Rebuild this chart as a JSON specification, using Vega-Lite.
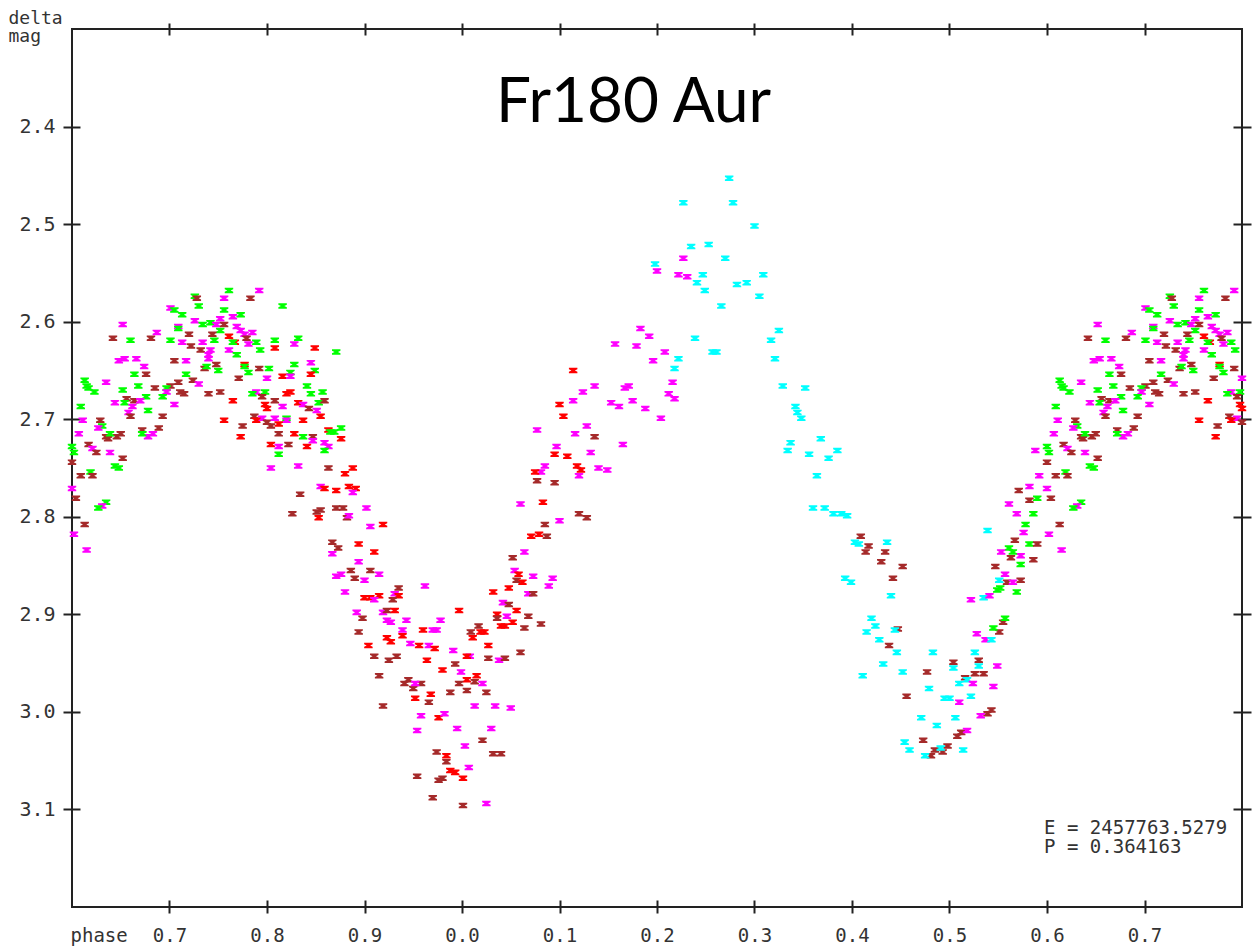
{
"$schema": "https://vega.github.io/schema/vega-lite/v6.json",
"width": 1170, "height": 878,
"autosize": {"type": "none"},
"padding": {"left": 72, "top": 29, "right": 11, "bottom": 41},
"background": "white",
"config": {"view": {"stroke": "#222", "strokeWidth": 2}, "axis": {"grid": false}},
"datasets": {"obs": [
{"phase":0.792,"mag":2.568,"set":"m"},{"phase":0.761,"mag":2.568,"set":"g"},{"phase":0.726,"mag":2.574,"set":"g"},{"phase":0.728,"mag":2.576,"set":"b"},{"phase":0.756,"mag":2.576,"set":"m"},{"phase":0.783,"mag":2.576,"set":"b"},{"phase":0.730,"mag":2.584,"set":"g"},{"phase":0.701,"mag":2.586,"set":"m"},{"phase":0.705,"mag":2.588,"set":"g"},{"phase":0.713,"mag":2.593,"set":"g"},{"phase":0.756,"mag":2.588,"set":"g"},{"phase":0.773,"mag":2.593,"set":"g"},{"phase":0.765,"mag":2.595,"set":"m"},{"phase":0.752,"mag":2.597,"set":"m"},{"phase":0.726,"mag":2.599,"set":"m"},{"phase":0.742,"mag":2.601,"set":"g"},{"phase":0.734,"mag":2.603,"set":"g"},{"phase":0.748,"mag":2.603,"set":"m"},{"phase":0.756,"mag":2.603,"set":"b"},{"phase":0.652,"mag":2.603,"set":"m"},{"phase":0.709,"mag":2.605,"set":"m"},{"phase":0.709,"mag":2.607,"set":"g"},{"phase":0.769,"mag":2.605,"set":"m"},{"phase":0.752,"mag":2.609,"set":"g"},{"phase":0.773,"mag":2.609,"set":"m"},{"phase":0.785,"mag":2.611,"set":"m"},{"phase":0.777,"mag":2.613,"set":"m"},{"phase":0.687,"mag":2.611,"set":"m"},{"phase":0.720,"mag":2.613,"set":"b"},{"phase":0.744,"mag":2.613,"set":"b"},{"phase":0.761,"mag":2.615,"set":"r"},{"phase":0.642,"mag":2.617,"set":"b"},{"phase":0.660,"mag":2.619,"set":"g"},{"phase":0.681,"mag":2.617,"set":"b"},{"phase":0.701,"mag":2.619,"set":"g"},{"phase":0.746,"mag":2.619,"set":"g"},{"phase":0.779,"mag":2.617,"set":"b"},{"phase":0.767,"mag":2.621,"set":"r"},{"phase":0.765,"mag":2.621,"set":"g"},{"phase":0.713,"mag":2.621,"set":"m"},{"phase":0.734,"mag":2.621,"set":"m"},{"phase":0.781,"mag":2.623,"set":"m"},{"phase":0.789,"mag":2.621,"set":"g"},{"phase":0.722,"mag":2.625,"set":"b"},{"phase":0.793,"mag":2.629,"set":"g"},{"phase":0.732,"mag":2.629,"set":"b"},{"phase":0.742,"mag":2.629,"set":"m"},{"phase":0.740,"mag":2.634,"set":"m"},{"phase":0.740,"mag":2.638,"set":"m"},{"phase":0.761,"mag":2.629,"set":"m"},{"phase":0.769,"mag":2.634,"set":"g"},{"phase":0.648,"mag":2.640,"set":"m"},{"phase":0.654,"mag":2.638,"set":"m"},{"phase":0.666,"mag":2.638,"set":"m"},{"phase":0.705,"mag":2.640,"set":"b"},{"phase":0.717,"mag":2.640,"set":"m"},{"phase":0.674,"mag":2.646,"set":"m"},{"phase":0.777,"mag":2.644,"set":"r"},{"phase":0.777,"mag":2.646,"set":"g"},{"phase":0.748,"mag":2.644,"set":"b"},{"phase":0.792,"mag":2.648,"set":"b"},{"phase":0.736,"mag":2.648,"set":"b"},{"phase":0.738,"mag":2.646,"set":"g"},{"phase":0.750,"mag":2.650,"set":"g"},{"phase":0.664,"mag":2.654,"set":"g"},{"phase":0.676,"mag":2.654,"set":"b"},{"phase":0.717,"mag":2.654,"set":"g"},{"phase":0.781,"mag":2.652,"set":"g"},{"phase":0.771,"mag":2.658,"set":"b"},{"phase":0.800,"mag":2.658,"set":"m"},{"phase":0.709,"mag":2.662,"set":"b"},{"phase":0.613,"mag":2.660,"set":"g"},{"phase":0.635,"mag":2.662,"set":"m"},{"phase":0.724,"mag":2.660,"set":"b"},{"phase":0.615,"mag":2.666,"set":"g"},{"phase":0.617,"mag":2.668,"set":"g"},{"phase":0.730,"mag":2.664,"set":"m"},{"phase":0.668,"mag":2.666,"set":"g"},{"phase":0.701,"mag":2.666,"set":"b"},{"phase":0.685,"mag":2.668,"set":"b"},{"phase":0.652,"mag":2.670,"set":"g"},{"phase":0.623,"mag":2.672,"set":"g"},{"phase":0.697,"mag":2.668,"set":"g"},{"phase":0.711,"mag":2.672,"set":"b"},{"phase":0.715,"mag":2.674,"set":"b"},{"phase":0.697,"mag":2.672,"set":"m"},{"phase":0.740,"mag":2.674,"set":"b"},{"phase":0.752,"mag":2.672,"set":"b"},{"phase":0.789,"mag":2.672,"set":"m"},{"phase":0.785,"mag":2.674,"set":"g"},{"phase":0.798,"mag":2.672,"set":"g"},{"phase":0.795,"mag":2.677,"set":"b"},{"phase":0.676,"mag":2.677,"set":"g"},{"phase":0.693,"mag":2.677,"set":"g"},{"phase":0.656,"mag":2.679,"set":"b"},{"phase":0.664,"mag":2.681,"set":"b"},{"phase":0.670,"mag":2.681,"set":"m"},{"phase":0.765,"mag":2.681,"set":"r"},{"phase":0.644,"mag":2.683,"set":"m"},{"phase":0.654,"mag":2.683,"set":"g"},{"phase":0.798,"mag":2.685,"set":"r"},{"phase":0.705,"mag":2.685,"set":"m"},{"phase":0.609,"mag":2.687,"set":"g"},{"phase":0.662,"mag":2.687,"set":"m"},{"phase":0.658,"mag":2.693,"set":"m"},{"phase":0.800,"mag":2.689,"set":"r"},{"phase":0.678,"mag":2.691,"set":"g"},{"phase":0.660,"mag":2.697,"set":"b"},{"phase":0.693,"mag":2.697,"set":"b"},{"phase":0.787,"mag":2.697,"set":"b"},{"phase":0.795,"mag":2.699,"set":"m"},{"phase":0.789,"mag":2.701,"set":"r"},{"phase":0.611,"mag":2.701,"set":"m"},{"phase":0.629,"mag":2.701,"set":"b"},{"phase":0.756,"mag":2.701,"set":"r"},{"phase":0.800,"mag":2.703,"set":"b"},{"phase":0.775,"mag":2.707,"set":"b"},{"phase":0.631,"mag":2.707,"set":"g"},{"phase":0.627,"mag":2.709,"set":"m"},{"phase":0.689,"mag":2.709,"set":"b"},{"phase":0.672,"mag":2.711,"set":"b"},{"phase":0.635,"mag":2.718,"set":"b"},{"phase":0.637,"mag":2.720,"set":"b"},{"phase":0.646,"mag":2.718,"set":"b"},{"phase":0.650,"mag":2.715,"set":"b"},{"phase":0.639,"mag":2.715,"set":"g"},{"phase":0.607,"mag":2.715,"set":"m"},{"phase":0.678,"mag":2.718,"set":"m"},{"phase":0.683,"mag":2.715,"set":"m"},{"phase":0.672,"mag":2.715,"set":"g"},{"phase":0.773,"mag":2.718,"set":"r"},{"phase":0.617,"mag":2.726,"set":"b"},{"phase":0.621,"mag":2.730,"set":"m"},{"phase":0.625,"mag":2.734,"set":"b"},{"phase":0.639,"mag":2.734,"set":"m"},{"phase":0.602,"mag":2.734,"set":"g"},{"phase":0.652,"mag":2.740,"set":"b"},{"phase":0.600,"mag":2.744,"set":"b"},{"phase":0.644,"mag":2.748,"set":"g"},{"phase":0.648,"mag":2.750,"set":"g"},{"phase":0.619,"mag":2.754,"set":"g"},{"phase":0.609,"mag":2.758,"set":"b"},{"phase":0.621,"mag":2.758,"set":"b"},{"phase":0.604,"mag":2.781,"set":"b"},{"phase":0.635,"mag":2.785,"set":"g"},{"phase":0.631,"mag":2.789,"set":"m"},{"phase":0.627,"mag":2.791,"set":"g"},{"phase":0.613,"mag":2.808,"set":"b"},{"phase":0.602,"mag":2.818,"set":"m"},{"phase":0.615,"mag":2.834,"set":"m"},{"phase":0.600,"mag":2.771,"set":"m"},{"phase":0.600,"mag":2.728,"set":"g"},
{"phase":1.792,"mag":2.568,"set":"m"},{"phase":1.761,"mag":2.568,"set":"g"},{"phase":1.726,"mag":2.574,"set":"g"},{"phase":1.728,"mag":2.576,"set":"b"},{"phase":1.756,"mag":2.576,"set":"m"},{"phase":1.783,"mag":2.576,"set":"b"},{"phase":1.730,"mag":2.584,"set":"g"},{"phase":1.701,"mag":2.586,"set":"m"},{"phase":1.705,"mag":2.588,"set":"g"},{"phase":1.713,"mag":2.593,"set":"g"},{"phase":1.756,"mag":2.588,"set":"g"},{"phase":1.773,"mag":2.593,"set":"g"},{"phase":1.765,"mag":2.595,"set":"m"},{"phase":1.752,"mag":2.597,"set":"m"},{"phase":1.726,"mag":2.599,"set":"m"},{"phase":1.742,"mag":2.601,"set":"g"},{"phase":1.734,"mag":2.603,"set":"g"},{"phase":1.748,"mag":2.603,"set":"m"},{"phase":1.756,"mag":2.603,"set":"b"},{"phase":1.652,"mag":2.603,"set":"m"},{"phase":1.709,"mag":2.605,"set":"m"},{"phase":1.709,"mag":2.607,"set":"g"},{"phase":1.769,"mag":2.605,"set":"m"},{"phase":1.752,"mag":2.609,"set":"g"},{"phase":1.773,"mag":2.609,"set":"m"},{"phase":1.785,"mag":2.611,"set":"m"},{"phase":1.777,"mag":2.613,"set":"m"},{"phase":1.687,"mag":2.611,"set":"m"},{"phase":1.720,"mag":2.613,"set":"b"},{"phase":1.744,"mag":2.613,"set":"b"},{"phase":1.761,"mag":2.615,"set":"r"},{"phase":1.642,"mag":2.617,"set":"b"},{"phase":1.660,"mag":2.619,"set":"g"},{"phase":1.681,"mag":2.617,"set":"b"},{"phase":1.701,"mag":2.619,"set":"g"},{"phase":1.746,"mag":2.619,"set":"g"},{"phase":1.779,"mag":2.617,"set":"b"},{"phase":1.767,"mag":2.621,"set":"r"},{"phase":1.765,"mag":2.621,"set":"g"},{"phase":1.713,"mag":2.621,"set":"m"},{"phase":1.734,"mag":2.621,"set":"m"},{"phase":1.781,"mag":2.623,"set":"m"},{"phase":1.789,"mag":2.621,"set":"g"},{"phase":1.722,"mag":2.625,"set":"b"},{"phase":1.793,"mag":2.629,"set":"g"},{"phase":1.732,"mag":2.629,"set":"b"},{"phase":1.742,"mag":2.629,"set":"m"},{"phase":1.740,"mag":2.634,"set":"m"},{"phase":1.740,"mag":2.638,"set":"m"},{"phase":1.761,"mag":2.629,"set":"m"},{"phase":1.769,"mag":2.634,"set":"g"},{"phase":1.648,"mag":2.640,"set":"m"},{"phase":1.654,"mag":2.638,"set":"m"},{"phase":1.666,"mag":2.638,"set":"m"},{"phase":1.705,"mag":2.640,"set":"b"},{"phase":1.717,"mag":2.640,"set":"m"},{"phase":1.674,"mag":2.646,"set":"m"},{"phase":1.777,"mag":2.644,"set":"r"},{"phase":1.777,"mag":2.646,"set":"g"},{"phase":1.748,"mag":2.644,"set":"b"},{"phase":1.792,"mag":2.648,"set":"b"},{"phase":1.736,"mag":2.648,"set":"b"},{"phase":1.738,"mag":2.646,"set":"g"},{"phase":1.750,"mag":2.650,"set":"g"},{"phase":1.664,"mag":2.654,"set":"g"},{"phase":1.676,"mag":2.654,"set":"b"},{"phase":1.717,"mag":2.654,"set":"g"},{"phase":1.781,"mag":2.652,"set":"g"},{"phase":1.771,"mag":2.658,"set":"b"},{"phase":1.800,"mag":2.658,"set":"m"},{"phase":1.709,"mag":2.662,"set":"b"},{"phase":1.613,"mag":2.660,"set":"g"},{"phase":1.635,"mag":2.662,"set":"m"},{"phase":1.724,"mag":2.660,"set":"b"},{"phase":1.615,"mag":2.666,"set":"g"},{"phase":1.617,"mag":2.668,"set":"g"},{"phase":1.730,"mag":2.664,"set":"m"},{"phase":1.668,"mag":2.666,"set":"g"},{"phase":1.701,"mag":2.666,"set":"b"},{"phase":1.685,"mag":2.668,"set":"b"},{"phase":1.652,"mag":2.670,"set":"g"},{"phase":1.623,"mag":2.672,"set":"g"},{"phase":1.697,"mag":2.668,"set":"g"},{"phase":1.711,"mag":2.672,"set":"b"},{"phase":1.715,"mag":2.674,"set":"b"},{"phase":1.697,"mag":2.672,"set":"m"},{"phase":1.740,"mag":2.674,"set":"b"},{"phase":1.752,"mag":2.672,"set":"b"},{"phase":1.789,"mag":2.672,"set":"m"},{"phase":1.785,"mag":2.674,"set":"g"},{"phase":1.798,"mag":2.672,"set":"g"},{"phase":1.795,"mag":2.677,"set":"b"},{"phase":1.676,"mag":2.677,"set":"g"},{"phase":1.693,"mag":2.677,"set":"g"},{"phase":1.656,"mag":2.679,"set":"b"},{"phase":1.664,"mag":2.681,"set":"b"},{"phase":1.670,"mag":2.681,"set":"m"},{"phase":1.765,"mag":2.681,"set":"r"},{"phase":1.644,"mag":2.683,"set":"m"},{"phase":1.654,"mag":2.683,"set":"g"},{"phase":1.798,"mag":2.685,"set":"r"},{"phase":1.705,"mag":2.685,"set":"m"},{"phase":1.609,"mag":2.687,"set":"g"},{"phase":1.662,"mag":2.687,"set":"m"},{"phase":1.658,"mag":2.693,"set":"m"},{"phase":1.800,"mag":2.689,"set":"r"},{"phase":1.678,"mag":2.691,"set":"g"},{"phase":1.660,"mag":2.697,"set":"b"},{"phase":1.693,"mag":2.697,"set":"b"},{"phase":1.787,"mag":2.697,"set":"b"},{"phase":1.795,"mag":2.699,"set":"m"},{"phase":1.789,"mag":2.701,"set":"r"},{"phase":1.611,"mag":2.701,"set":"m"},{"phase":1.629,"mag":2.701,"set":"b"},{"phase":1.756,"mag":2.701,"set":"r"},{"phase":1.800,"mag":2.703,"set":"b"},{"phase":1.775,"mag":2.707,"set":"b"},{"phase":1.631,"mag":2.707,"set":"g"},{"phase":1.627,"mag":2.709,"set":"m"},{"phase":1.689,"mag":2.709,"set":"b"},{"phase":1.672,"mag":2.711,"set":"b"},{"phase":1.635,"mag":2.718,"set":"b"},{"phase":1.637,"mag":2.720,"set":"b"},{"phase":1.646,"mag":2.718,"set":"b"},{"phase":1.650,"mag":2.715,"set":"b"},{"phase":1.639,"mag":2.715,"set":"g"},{"phase":1.607,"mag":2.715,"set":"m"},{"phase":1.678,"mag":2.718,"set":"m"},{"phase":1.683,"mag":2.715,"set":"m"},{"phase":1.672,"mag":2.715,"set":"g"},{"phase":1.773,"mag":2.718,"set":"r"},{"phase":1.617,"mag":2.726,"set":"b"},{"phase":1.621,"mag":2.730,"set":"m"},{"phase":1.625,"mag":2.734,"set":"b"},{"phase":1.639,"mag":2.734,"set":"m"},{"phase":1.602,"mag":2.734,"set":"g"},{"phase":1.652,"mag":2.740,"set":"b"},{"phase":1.600,"mag":2.744,"set":"b"},{"phase":1.644,"mag":2.748,"set":"g"},{"phase":1.648,"mag":2.750,"set":"g"},{"phase":1.619,"mag":2.754,"set":"g"},{"phase":1.609,"mag":2.758,"set":"b"},{"phase":1.621,"mag":2.758,"set":"b"},{"phase":1.604,"mag":2.781,"set":"b"},{"phase":1.635,"mag":2.785,"set":"g"},{"phase":1.631,"mag":2.789,"set":"m"},{"phase":1.627,"mag":2.791,"set":"g"},{"phase":1.613,"mag":2.808,"set":"b"},{"phase":1.602,"mag":2.818,"set":"m"},{"phase":1.615,"mag":2.834,"set":"m"},{"phase":1.600,"mag":2.771,"set":"m"},{"phase":1.600,"mag":2.728,"set":"g"},
{"phase":0.816,"mag":2.584,"set":"g"},{"phase":0.832,"mag":2.617,"set":"g"},{"phase":0.828,"mag":2.623,"set":"m"},{"phase":0.808,"mag":2.627,"set":"r"},{"phase":0.849,"mag":2.627,"set":"r"},{"phase":0.871,"mag":2.631,"set":"g"},{"phase":0.808,"mag":2.619,"set":"g"},{"phase":0.845,"mag":2.642,"set":"m"},{"phase":0.828,"mag":2.644,"set":"g"},{"phase":0.802,"mag":2.648,"set":"g"},{"phase":0.849,"mag":2.650,"set":"g"},{"phase":0.824,"mag":2.652,"set":"g"},{"phase":0.816,"mag":2.656,"set":"r"},{"phase":0.824,"mag":2.656,"set":"m"},{"phase":0.845,"mag":2.654,"set":"r"},{"phase":0.841,"mag":2.666,"set":"g"},{"phase":0.824,"mag":2.672,"set":"r"},{"phase":0.820,"mag":2.674,"set":"r"},{"phase":0.845,"mag":2.674,"set":"g"},{"phase":0.857,"mag":2.672,"set":"g"},{"phase":0.808,"mag":2.681,"set":"b"},{"phase":0.832,"mag":2.683,"set":"r"},{"phase":0.837,"mag":2.685,"set":"m"},{"phase":0.853,"mag":2.683,"set":"g"},{"phase":0.859,"mag":2.681,"set":"b"},{"phase":0.843,"mag":2.689,"set":"b"},{"phase":0.816,"mag":2.687,"set":"m"},{"phase":0.851,"mag":2.691,"set":"m"},{"phase":0.855,"mag":2.697,"set":"r"},{"phase":0.808,"mag":2.699,"set":"m"},{"phase":0.820,"mag":2.699,"set":"g"},{"phase":0.820,"mag":2.701,"set":"m"},{"phase":0.837,"mag":2.701,"set":"r"},{"phase":0.804,"mag":2.707,"set":"b"},{"phase":0.812,"mag":2.705,"set":"r"},{"phase":0.863,"mag":2.711,"set":"r"},{"phase":0.865,"mag":2.713,"set":"g"},{"phase":0.876,"mag":2.709,"set":"g"},{"phase":0.869,"mag":2.713,"set":"g"},{"phase":0.828,"mag":2.715,"set":"r"},{"phase":0.812,"mag":2.715,"set":"b"},{"phase":0.847,"mag":2.718,"set":"b"},{"phase":0.837,"mag":2.718,"set":"g"},{"phase":0.876,"mag":2.720,"set":"r"},{"phase":0.847,"mag":2.722,"set":"m"},{"phase":0.822,"mag":2.726,"set":"b"},{"phase":0.804,"mag":2.726,"set":"r"},{"phase":0.812,"mag":2.728,"set":"m"},{"phase":0.859,"mag":2.724,"set":"m"},{"phase":0.863,"mag":2.728,"set":"m"},{"phase":0.841,"mag":2.728,"set":"r"},{"phase":0.859,"mag":2.732,"set":"g"},{"phase":0.812,"mag":2.736,"set":"g"},{"phase":0.832,"mag":2.748,"set":"m"},{"phase":0.863,"mag":2.750,"set":"b"},{"phase":0.880,"mag":2.756,"set":"r"},{"phase":0.888,"mag":2.750,"set":"r"},{"phase":0.804,"mag":2.750,"set":"m"},{"phase":0.834,"mag":2.777,"set":"b"},{"phase":0.855,"mag":2.769,"set":"m"},{"phase":0.859,"mag":2.771,"set":"r"},{"phase":0.871,"mag":2.773,"set":"r"},{"phase":0.884,"mag":2.769,"set":"r"},{"phase":0.891,"mag":2.771,"set":"r"},{"phase":0.888,"mag":2.775,"set":"m"},{"phase":0.826,"mag":2.797,"set":"b"},{"phase":0.851,"mag":2.795,"set":"b"},{"phase":0.855,"mag":2.793,"set":"b"},{"phase":0.853,"mag":2.801,"set":"r"},{"phase":0.871,"mag":2.791,"set":"b"},{"phase":0.878,"mag":2.791,"set":"b"},{"phase":0.882,"mag":2.801,"set":"b"},{"phase":0.884,"mag":2.799,"set":"m"},{"phase":0.867,"mag":2.826,"set":"b"},{"phase":0.873,"mag":2.832,"set":"b"},{"phase":0.867,"mag":2.838,"set":"m"},{"phase":0.894,"mag":2.828,"set":"r"},{"phase":0.886,"mag":2.855,"set":"b"},{"phase":0.890,"mag":2.863,"set":"b"},{"phase":0.871,"mag":2.861,"set":"m"},{"phase":0.876,"mag":2.859,"set":"m"},{"phase":0.894,"mag":2.846,"set":"m"},{"phase":0.880,"mag":2.877,"set":"m"},{"phase":0.892,"mag":2.898,"set":"m"},{"phase":0.902,"mag":2.791,"set":"m"},{"phase":0.906,"mag":2.810,"set":"m"},{"phase":0.919,"mag":2.808,"set":"r"},{"phase":0.910,"mag":2.836,"set":"r"},{"phase":0.906,"mag":2.855,"set":"b"},{"phase":0.900,"mag":2.865,"set":"m"},{"phase":0.915,"mag":2.859,"set":"m"},{"phase":0.900,"mag":2.883,"set":"r"},{"phase":0.906,"mag":2.883,"set":"r"},{"phase":0.915,"mag":2.881,"set":"r"},{"phase":0.910,"mag":2.885,"set":"m"},{"phase":0.935,"mag":2.873,"set":"b"},{"phase":0.931,"mag":2.879,"set":"m"},{"phase":0.935,"mag":2.881,"set":"r"},{"phase":0.929,"mag":2.885,"set":"b"},{"phase":0.962,"mag":2.871,"set":"m"},{"phase":0.898,"mag":2.904,"set":"b"},{"phase":0.919,"mag":2.898,"set":"m"},{"phase":0.923,"mag":2.896,"set":"b"},{"phase":0.931,"mag":2.896,"set":"r"},{"phase":0.923,"mag":2.906,"set":"m"},{"phase":0.927,"mag":2.908,"set":"m"},{"phase":0.943,"mag":2.906,"set":"m"},{"phase":0.997,"mag":2.896,"set":"r"},{"phase":0.894,"mag":2.918,"set":"b"},{"phase":0.939,"mag":2.916,"set":"m"},{"phase":0.960,"mag":2.916,"set":"r"},{"phase":0.970,"mag":2.916,"set":"m"},{"phase":0.974,"mag":2.916,"set":"m"},{"phase":0.978,"mag":2.906,"set":"m"},{"phase":0.923,"mag":2.924,"set":"r"},{"phase":0.927,"mag":2.928,"set":"r"},{"phase":0.939,"mag":2.922,"set":"r"},{"phase":0.947,"mag":2.930,"set":"m"},{"phase":0.956,"mag":2.932,"set":"r"},{"phase":0.966,"mag":2.932,"set":"m"},{"phase":0.972,"mag":2.935,"set":"r"},{"phase":0.904,"mag":2.932,"set":"r"},{"phase":0.910,"mag":2.943,"set":"b"},{"phase":0.925,"mag":2.947,"set":"b"},{"phase":0.933,"mag":2.943,"set":"b"},{"phase":0.964,"mag":2.947,"set":"r"},{"phase":0.991,"mag":2.937,"set":"m"},{"phase":0.980,"mag":2.957,"set":"r"},{"phase":0.993,"mag":2.951,"set":"b"},{"phase":0.999,"mag":2.959,"set":"m"},{"phase":0.915,"mag":2.963,"set":"b"},{"phase":0.945,"mag":2.967,"set":"b"},{"phase":0.941,"mag":2.971,"set":"b"},{"phase":0.950,"mag":2.976,"set":"b"},{"phase":0.958,"mag":2.971,"set":"b"},{"phase":0.952,"mag":2.971,"set":"m"},{"phase":0.952,"mag":2.986,"set":"r"},{"phase":0.968,"mag":2.982,"set":"r"},{"phase":0.966,"mag":2.990,"set":"b"},{"phase":0.919,"mag":2.994,"set":"b"},{"phase":0.958,"mag":3.004,"set":"m"},{"phase":0.976,"mag":3.006,"set":"r"},{"phase":0.982,"mag":3.002,"set":"m"},{"phase":0.954,"mag":3.019,"set":"m"},{"phase":0.995,"mag":3.017,"set":"m"},{"phase":1.003,"mag":3.035,"set":"m"},{"phase":0.974,"mag":3.041,"set":"b"},{"phase":0.984,"mag":3.045,"set":"r"},{"phase":0.984,"mag":3.051,"set":"b"},{"phase":0.988,"mag":3.060,"set":"r"},{"phase":0.993,"mag":3.062,"set":"r"},{"phase":1.001,"mag":3.068,"set":"r"},{"phase":1.007,"mag":3.057,"set":"m"},{"phase":0.954,"mag":3.066,"set":"b"},{"phase":0.976,"mag":3.070,"set":"b"},{"phase":0.980,"mag":3.068,"set":"b"},{"phase":0.970,"mag":3.088,"set":"b"},{"phase":1.001,"mag":3.096,"set":"b"},{"phase":1.025,"mag":3.094,"set":"m"},
{"phase":1.095,"mag":2.736,"set":"r"},{"phase":1.085,"mag":2.748,"set":"m"},{"phase":1.081,"mag":2.754,"set":"m"},{"phase":1.075,"mag":2.754,"set":"r"},{"phase":1.077,"mag":2.763,"set":"b"},{"phase":1.095,"mag":2.765,"set":"b"},{"phase":1.083,"mag":2.785,"set":"r"},{"phase":1.060,"mag":2.787,"set":"m"},{"phase":1.100,"mag":2.804,"set":"m"},{"phase":1.085,"mag":2.808,"set":"b"},{"phase":1.071,"mag":2.820,"set":"r"},{"phase":1.079,"mag":2.818,"set":"r"},{"phase":1.087,"mag":2.820,"set":"b"},{"phase":1.052,"mag":2.842,"set":"b"},{"phase":1.064,"mag":2.836,"set":"m"},{"phase":1.054,"mag":2.855,"set":"m"},{"phase":1.058,"mag":2.859,"set":"r"},{"phase":1.056,"mag":2.865,"set":"b"},{"phase":1.062,"mag":2.867,"set":"r"},{"phase":1.073,"mag":2.861,"set":"m"},{"phase":1.093,"mag":2.863,"set":"m"},{"phase":1.089,"mag":2.871,"set":"m"},{"phase":1.048,"mag":2.873,"set":"r"},{"phase":1.032,"mag":2.877,"set":"r"},{"phase":1.068,"mag":2.879,"set":"m"},{"phase":1.073,"mag":2.879,"set":"b"},{"phase":1.042,"mag":2.888,"set":"m"},{"phase":1.048,"mag":2.890,"set":"b"},{"phase":1.036,"mag":2.900,"set":"r"},{"phase":1.036,"mag":2.904,"set":"b"},{"phase":1.046,"mag":2.902,"set":"m"},{"phase":1.056,"mag":2.896,"set":"r"},{"phase":1.068,"mag":2.902,"set":"b"},{"phase":1.040,"mag":2.912,"set":"r"},{"phase":1.044,"mag":2.912,"set":"r"},{"phase":1.052,"mag":2.908,"set":"r"},{"phase":1.081,"mag":2.910,"set":"b"},{"phase":1.064,"mag":2.914,"set":"b"},{"phase":1.017,"mag":2.912,"set":"b"},{"phase":1.009,"mag":2.918,"set":"b"},{"phase":1.019,"mag":2.918,"set":"r"},{"phase":1.023,"mag":2.918,"set":"r"},{"phase":1.011,"mag":2.924,"set":"r"},{"phase":1.027,"mag":2.932,"set":"r"},{"phase":1.060,"mag":2.939,"set":"b"},{"phase":1.008,"mag":2.943,"set":"m"},{"phase":1.005,"mag":2.943,"set":"r"},{"phase":1.027,"mag":2.945,"set":"b"},{"phase":1.038,"mag":2.947,"set":"m"},{"phase":1.044,"mag":2.945,"set":"b"},{"phase":1.005,"mag":2.967,"set":"r"},{"phase":1.015,"mag":2.963,"set":"r"},{"phase":1.013,"mag":2.969,"set":"b"},{"phase":0.997,"mag":2.971,"set":"b"},{"phase":1.005,"mag":2.978,"set":"b"},{"phase":1.021,"mag":2.971,"set":"m"},{"phase":0.988,"mag":2.980,"set":"b"},{"phase":1.025,"mag":2.980,"set":"b"},{"phase":1.013,"mag":2.994,"set":"m"},{"phase":1.034,"mag":2.994,"set":"m"},{"phase":1.050,"mag":2.996,"set":"m"},{"phase":1.030,"mag":3.017,"set":"m"},{"phase":1.021,"mag":3.029,"set":"b"},{"phase":1.032,"mag":3.043,"set":"b"},{"phase":1.040,"mag":3.043,"set":"b"},
{"phase":1.114,"mag":2.650,"set":"r"},{"phase":1.136,"mag":2.666,"set":"m"},{"phase":1.124,"mag":2.672,"set":"m"},{"phase":1.114,"mag":2.681,"set":"m"},{"phase":1.100,"mag":2.685,"set":"r"},{"phase":1.104,"mag":2.697,"set":"r"},{"phase":1.077,"mag":2.711,"set":"m"},{"phase":1.128,"mag":2.707,"set":"m"},{"phase":1.116,"mag":2.715,"set":"m"},{"phase":1.136,"mag":2.718,"set":"b"},{"phase":1.097,"mag":2.728,"set":"m"},{"phase":1.132,"mag":2.734,"set":"m"},{"phase":1.108,"mag":2.738,"set":"r"},{"phase":1.118,"mag":2.748,"set":"r"},{"phase":1.122,"mag":2.752,"set":"r"},{"phase":1.140,"mag":2.750,"set":"m"},{"phase":1.149,"mag":2.752,"set":"m"},{"phase":1.120,"mag":2.758,"set":"m"},{"phase":1.120,"mag":2.797,"set":"b"},{"phase":1.128,"mag":2.801,"set":"b"},{"phase":1.167,"mag":2.668,"set":"m"},{"phase":1.171,"mag":2.666,"set":"m"},{"phase":1.153,"mag":2.683,"set":"m"},{"phase":1.161,"mag":2.687,"set":"m"},{"phase":1.175,"mag":2.681,"set":"m"},{"phase":1.188,"mag":2.689,"set":"m"},{"phase":1.204,"mag":2.699,"set":"m"},{"phase":1.165,"mag":2.726,"set":"m"},{"phase":1.212,"mag":2.674,"set":"m"},{"phase":1.218,"mag":2.679,"set":"m"},{"phase":1.216,"mag":2.662,"set":"m"},{"phase":1.157,"mag":2.623,"set":"m"},{"phase":1.179,"mag":2.625,"set":"m"},{"phase":1.183,"mag":2.607,"set":"m"},{"phase":1.192,"mag":2.615,"set":"m"},{"phase":1.208,"mag":2.631,"set":"m"},{"phase":1.196,"mag":2.640,"set":"m"},{"phase":1.227,"mag":2.535,"set":"m"},{"phase":1.200,"mag":2.548,"set":"m"},{"phase":1.222,"mag":2.552,"set":"m"},{"phase":1.231,"mag":2.554,"set":"m"},
{"phase":1.300,"mag":2.502,"set":"c"},{"phase":1.235,"mag":2.523,"set":"c"},{"phase":1.253,"mag":2.521,"set":"c"},{"phase":1.270,"mag":2.535,"set":"c"},{"phase":1.198,"mag":2.541,"set":"c"},{"phase":1.247,"mag":2.552,"set":"c"},{"phase":1.241,"mag":2.560,"set":"c"},{"phase":1.309,"mag":2.552,"set":"c"},{"phase":1.282,"mag":2.562,"set":"c"},{"phase":1.292,"mag":2.560,"set":"c"},{"phase":1.249,"mag":2.568,"set":"c"},{"phase":1.305,"mag":2.574,"set":"c"},{"phase":1.266,"mag":2.584,"set":"c"},{"phase":1.325,"mag":2.609,"set":"c"},{"phase":1.239,"mag":2.617,"set":"c"},{"phase":1.317,"mag":2.619,"set":"c"},{"phase":1.257,"mag":2.631,"set":"c"},{"phase":1.261,"mag":2.631,"set":"c"},{"phase":1.222,"mag":2.638,"set":"c"},{"phase":1.321,"mag":2.638,"set":"c"},{"phase":1.218,"mag":2.648,"set":"c"},{"phase":1.329,"mag":2.666,"set":"c"},{"phase":1.352,"mag":2.668,"set":"c"},{"phase":1.342,"mag":2.687,"set":"c"},{"phase":1.344,"mag":2.693,"set":"c"},{"phase":1.348,"mag":2.699,"set":"c"},{"phase":1.368,"mag":2.720,"set":"c"},{"phase":1.337,"mag":2.724,"set":"c"},{"phase":1.334,"mag":2.732,"set":"c"},{"phase":1.356,"mag":2.736,"set":"c"},{"phase":1.376,"mag":2.740,"set":"c"},{"phase":1.385,"mag":2.732,"set":"c"},{"phase":1.364,"mag":2.758,"set":"c"},{"phase":1.360,"mag":2.791,"set":"c"},{"phase":1.372,"mag":2.791,"set":"c"},{"phase":1.381,"mag":2.797,"set":"c"},{"phase":1.389,"mag":2.797,"set":"c"},{"phase":1.395,"mag":2.799,"set":"c"},{"phase":1.274,"mag":2.453,"set":"c"},{"phase":1.227,"mag":2.478,"set":"c"},{"phase":1.278,"mag":2.478,"set":"c"},
{"phase":1.409,"mag":2.820,"set":"b"},{"phase":1.403,"mag":2.826,"set":"c"},{"phase":1.407,"mag":2.828,"set":"c"},{"phase":1.417,"mag":2.830,"set":"b"},{"phase":1.414,"mag":2.836,"set":"b"},{"phase":1.436,"mag":2.826,"set":"c"},{"phase":1.434,"mag":2.836,"set":"b"},{"phase":1.430,"mag":2.846,"set":"b"},{"phase":1.452,"mag":2.851,"set":"b"},{"phase":1.442,"mag":2.863,"set":"b"},{"phase":1.393,"mag":2.863,"set":"c"},{"phase":1.399,"mag":2.867,"set":"c"},{"phase":1.440,"mag":2.881,"set":"c"},{"phase":1.420,"mag":2.904,"set":"c"},{"phase":1.424,"mag":2.912,"set":"c"},{"phase":1.415,"mag":2.918,"set":"c"},{"phase":1.447,"mag":2.915,"set":"b"},{"phase":1.444,"mag":2.916,"set":"c"},{"phase":1.428,"mag":2.926,"set":"c"},{"phase":1.438,"mag":2.932,"set":"b"},{"phase":1.446,"mag":2.939,"set":"c"},{"phase":1.432,"mag":2.951,"set":"c"},{"phase":1.411,"mag":2.963,"set":"c"},{"phase":1.452,"mag":2.959,"set":"c"},{"phase":1.477,"mag":2.959,"set":"b"},{"phase":1.483,"mag":2.939,"set":"c"},{"phase":1.479,"mag":2.976,"set":"c"},{"phase":1.456,"mag":2.984,"set":"b"},{"phase":1.471,"mag":3.006,"set":"c"},{"phase":1.487,"mag":3.014,"set":"c"},{"phase":1.495,"mag":2.986,"set":"c"},{"phase":1.500,"mag":2.986,"set":"c"},{"phase":1.510,"mag":2.990,"set":"m"},{"phase":1.506,"mag":3.006,"set":"c"},{"phase":1.473,"mag":3.029,"set":"b"},{"phase":1.454,"mag":3.031,"set":"c"},{"phase":1.459,"mag":3.039,"set":"c"},{"phase":1.485,"mag":3.039,"set":"b"},{"phase":1.481,"mag":3.045,"set":"b"},{"phase":1.493,"mag":3.041,"set":"b"},{"phase":1.498,"mag":3.035,"set":"b"},{"phase":1.491,"mag":3.037,"set":"c"},{"phase":1.475,"mag":3.045,"set":"c"},{"phase":1.514,"mag":3.039,"set":"c"},{"phase":1.508,"mag":3.025,"set":"b"},{"phase":1.512,"mag":3.021,"set":"b"},{"phase":1.518,"mag":3.019,"set":"m"},{"phase":1.539,"mag":3.002,"set":"b"},{"phase":1.543,"mag":2.998,"set":"b"},{"phase":1.532,"mag":3.004,"set":"m"},{"phase":1.522,"mag":2.984,"set":"c"},{"phase":1.516,"mag":2.965,"set":"b"},{"phase":1.518,"mag":2.967,"set":"c"},{"phase":1.524,"mag":2.971,"set":"m"},{"phase":1.510,"mag":2.971,"set":"c"},{"phase":1.545,"mag":2.974,"set":"m"},{"phase":1.526,"mag":2.961,"set":"b"},{"phase":1.535,"mag":2.961,"set":"b"},{"phase":1.504,"mag":2.949,"set":"b"},{"phase":1.504,"mag":2.955,"set":"c"},{"phase":1.530,"mag":2.953,"set":"c"},{"phase":1.549,"mag":2.953,"set":"m"},{"phase":1.530,"mag":2.947,"set":"b"},{"phase":1.526,"mag":2.939,"set":"c"},{"phase":1.528,"mag":2.920,"set":"m"},{"phase":1.537,"mag":2.926,"set":"m"},{"phase":1.543,"mag":2.926,"set":"c"},{"phase":1.551,"mag":2.918,"set":"b"},{"phase":1.545,"mag":2.914,"set":"g"},{"phase":1.555,"mag":2.908,"set":"b"},{"phase":1.557,"mag":2.904,"set":"g"},{"phase":1.522,"mag":2.885,"set":"m"},{"phase":1.535,"mag":2.883,"set":"c"},{"phase":1.541,"mag":2.881,"set":"m"},{"phase":1.549,"mag":2.875,"set":"g"},{"phase":1.552,"mag":2.873,"set":"g"},{"phase":1.569,"mag":2.877,"set":"g"},{"phase":1.559,"mag":2.867,"set":"b"},{"phase":1.565,"mag":2.867,"set":"m"},{"phase":1.573,"mag":2.865,"set":"b"},{"phase":1.551,"mag":2.865,"set":"c"},{"phase":1.557,"mag":2.859,"set":"m"},{"phase":1.547,"mag":2.851,"set":"b"},{"phase":1.573,"mag":2.849,"set":"g"},{"phase":1.573,"mag":2.840,"set":"m"},{"phase":1.563,"mag":2.842,"set":"b"},{"phase":1.561,"mag":2.832,"set":"g"},{"phase":1.565,"mag":2.836,"set":"g"},{"phase":1.553,"mag":2.836,"set":"m"},{"phase":1.567,"mag":2.824,"set":"b"},{"phase":1.578,"mag":2.808,"set":"g"},{"phase":1.576,"mag":2.816,"set":"m"},{"phase":1.569,"mag":2.797,"set":"m"},{"phase":1.561,"mag":2.787,"set":"m"},{"phase":1.571,"mag":2.773,"set":"b"},{"phase":1.582,"mag":2.769,"set":"m"},{"phase":1.582,"mag":2.783,"set":"b"},{"phase":1.539,"mag":2.814,"set":"c"},{"phase":1.590,"mag":2.781,"set":"g"},{"phase":1.586,"mag":2.797,"set":"g"},{"phase":1.582,"mag":2.828,"set":"g"},{"phase":1.590,"mag":2.828,"set":"b"},{"phase":1.586,"mag":2.844,"set":"b"},{"phase":1.588,"mag":2.732,"set":"m"},{"phase":1.592,"mag":2.758,"set":"m"}
]},
"layer": [
{
"data": {"name": "obs"},
"mark": {"type": "point", "shape": "M-1,-0.65L1,-0.65L1,-0.3L0.4,0L1,0.3L1,0.65L-1,0.65L-1,0.3L-0.4,0L-1,-0.3Z", "filled": true, "size": 72, "opacity": 1, "strokeWidth": 0},
"encoding": {
"x": {"field": "phase", "type": "quantitative", "scale": {"domain": [0.6, 1.8], "nice": false, "zero": false},
"axis": {"orient": "bottom", "values": [0.7,0.8,0.9,1.0,1.1,1.2,1.3,1.4,1.5,1.6,1.7], "labelExpr": "format(datum.value % 1, '.1f')", "domain": false, "offset": -7, "tickSize": 13, "tickWidth": 2, "tickColor": "#222", "labelFont": "DejaVu Sans Mono", "labelFontSize": 19, "labelColor": "#333", "labelBaseline": "alphabetic", "labelPadding": 28, "labelFlush": false, "labelOverlap": false, "title": "phase", "titleFont": "DejaVu Sans Mono", "titleFontSize": 19, "titleFontWeight": "normal", "titleColor": "#333", "titleAnchor": "start", "titleAlign": "left", "titleBaseline": "alphabetic", "titleX": -2, "titleY": 41}},
"y": {"field": "mag", "type": "quantitative", "scale": {"domain": [2.3, 3.2], "reverse": true, "nice": false, "zero": false},
"axis": {"orient": "left", "values": [2.4,2.5,2.6,2.7,2.8,2.9,3.0,3.1], "format": ".1f", "domain": false, "offset": -8, "tickSize": 17, "tickWidth": 2, "tickColor": "#222", "labelFont": "DejaVu Sans Mono", "labelFontSize": 20, "labelColor": "#333", "labelPadding": 8, "labelBaseline": "middle", "labelOverlap": false, "labelFlush": false, "title": ["delta", "mag"], "titleFont": "DejaVu Sans Mono", "titleFontSize": 18, "titleFontWeight": "normal", "titleColor": "#333", "titleAngle": 0, "titleAlign": "left", "titleBaseline": "alphabetic", "titleX": -72, "titleY": -6, "titleLineHeight": 18}},
"color": {"field": "set", "type": "nominal", "scale": {"domain": ["g","m","b","r","c"], "range": ["#00ff00","#ff00ff","#a52a2a","#ff0000","#00ffff"]}, "legend": null}
}
},
{
"data": {"values": [{"label": "Fr180 Aur"}]},
"mark": {"type": "text", "font": "Lato", "fontSize": 62, "align": "center", "baseline": "alphabetic", "color": "black"},
"encoding": {
"x": {"datum": 1.176, "type": "quantitative", "axis": {"orient": "top", "values": [0.7,0.8,0.9,1.0,1.1,1.2,1.3,1.4,1.5,1.6,1.7], "labels": false, "domain": false, "offset": -6, "tickSize": 12, "tickWidth": 2, "tickColor": "#222", "title": null}},
"y": {"datum": 2.395, "type": "quantitative", "axis": {"orient": "right", "values": [2.4,2.5,2.6,2.7,2.8,2.9,3.0,3.1], "labels": false, "domain": false, "offset": -9, "tickSize": 18, "tickWidth": 2, "tickColor": "#222", "title": null}},
"text": {"field": "label"}
}
},
{
"data": {"values": [{"label": "E = 2457763.5279"}]},
"mark": {"type": "text", "font": "DejaVu Sans Mono", "fontSize": 19, "align": "left", "baseline": "alphabetic", "color": "#333", "lineHeight": 19},
"encoding": {
"x": {"datum": 1.597, "type": "quantitative", "axis": null},
"y": {"datum": 3.125, "type": "quantitative", "axis": null},
"text": {"value": ["E = 2457763.5279", "P = 0.364163"]}
}
}
],
"resolve": {"axis": {"x": "independent", "y": "independent"}}
}
